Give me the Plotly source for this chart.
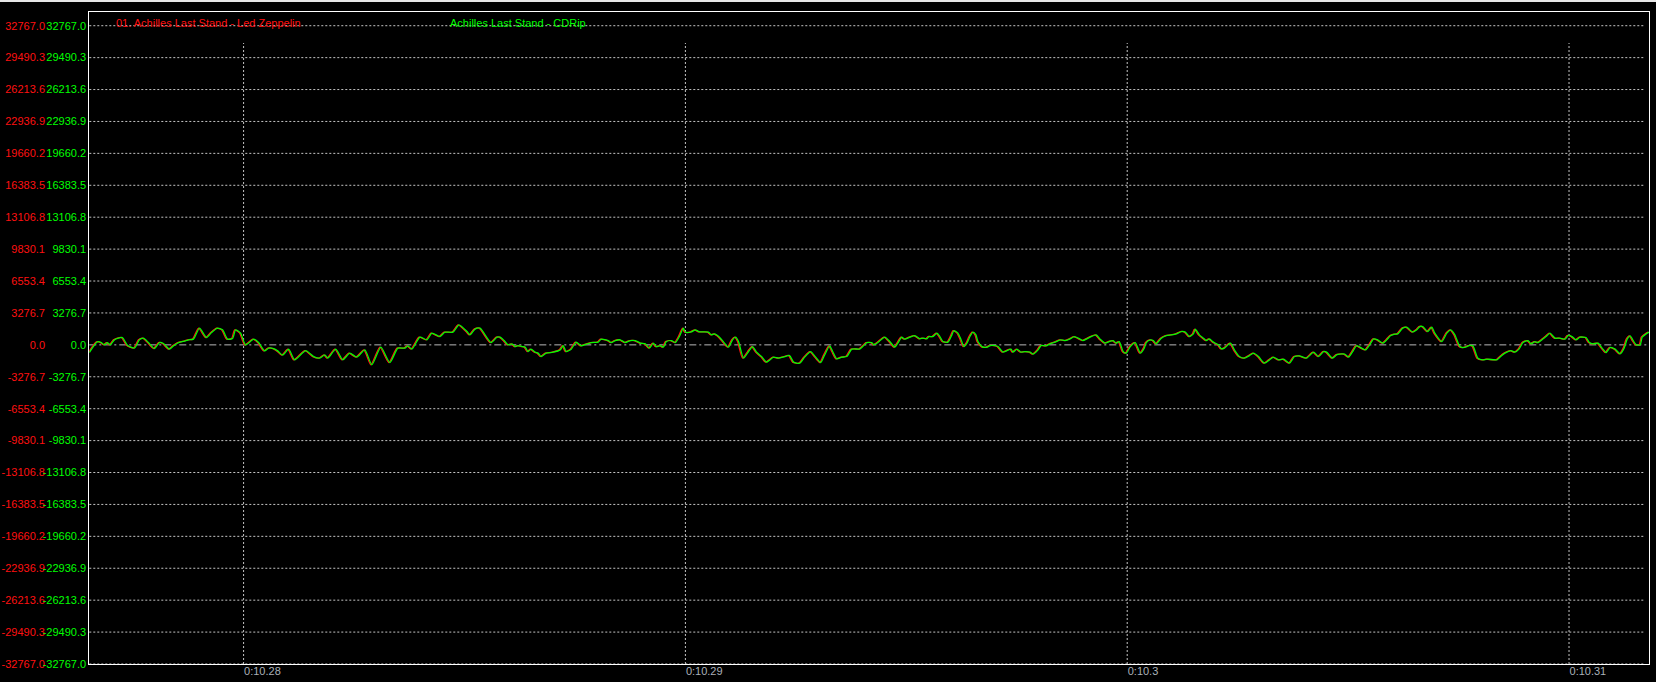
import plotly.graph_objects as go

# ---------------- data ----------------
SAMPLE_RATE = 44100

series_names = ["01. Achilles Last Stand - Led Zeppelin", "Achilles Last Stand - CDRip"]

# sample positions of the traced waveform points
sample_index = [
    453194, 453202, 453206, 453209, 453212, 453215, 453219, 453227, 453232, 453239,
    453244, 453248, 453253, 453259, 453264, 453268, 453274, 453278, 453283, 453290,
    453293, 453298, 453304, 453311, 453316, 453322, 453327, 453332, 453337, 453340,
    453345, 453350, 453358, 453363, 453369, 453373, 453378, 453382, 453387, 453393,
    453399, 453410, 453418, 453424, 453429, 453432, 453440, 453447, 453454, 453461,
    453469, 453476, 453485, 453494, 453502, 453509, 453512, 453516, 453524, 453531,
    453536, 453544, 453549, 453557, 453563, 453571, 453574, 453579, 453584, 453595,
    453601, 453604, 453608, 453612, 453616, 453619, 453622, 453626, 453629, 453632,
    453635, 453639, 453642, 453645, 453650, 453657, 453664, 453667, 453670, 453675,
    453680, 453685, 453690, 453695, 453702, 453705, 453712, 453715, 453719, 453724,
    453729, 453734, 453739, 453744, 453749, 453753, 453757, 453760, 453764, 453767,
    453770, 453775, 453779, 453783, 453787, 453789, 453795, 453799, 453803, 453812,
    453815, 453818, 453823, 453828, 453832, 453836, 453839, 453842, 453847, 453852,
    453856, 453860, 453865, 453870, 453877, 453882, 453888, 453893, 453897, 453903,
    453908, 453914, 453919, 453924, 453928, 453933, 453936, 453940, 453945, 453950,
    453955, 453958, 453963, 453966, 453970, 453975, 453977, 453981, 453988, 453993,
    453998, 454001, 454005, 454008, 454013, 454018,
    454023, 454026, 454030, 454032, 454036, 454040, 454043, 454046, 454051, 454055,
    454057, 454061, 454064, 454067, 454070, 454073, 454076, 454079, 454081, 454085,
    454090, 454093, 454098, 454101, 454106, 454110, 454114, 454116, 454120, 454124,
    454128, 454133, 454136, 454141, 454144, 454149, 454153, 454158, 454163, 454168,
    454173, 454177, 454181, 454186, 454191, 454194, 454199, 454203, 454208, 454212,
    454216, 454219, 454222, 454226, 454229, 454233, 454238, 454243, 454247, 454249,
    454253, 454256, 454259, 454264, 454269, 454274, 454279, 454284, 454288, 454292,
    454296, 454298, 454302, 454306, 454309, 454312, 454316, 454321, 454324, 454327,
    454333, 454337, 454342, 454347, 454352, 454356, 454361, 454367, 454372, 454376,
    454381, 454386, 454392, 454397, 454402, 454409, 454416, 454421,
    454426, 454429, 454435, 454439, 454442, 454447, 454451, 454455, 454459, 454464,
    454468, 454472, 454476, 454480, 454485, 454489, 454493, 454497, 454500, 454505,
    454509, 454511, 454515, 454519, 454522, 454525, 454530, 454534, 454537, 454544,
    454549, 454553, 454557, 454562, 454565, 454569, 454571, 454575, 454580, 454585,
    454589, 454599, 454602, 454607, 454613, 454617, 454621, 454625, 454630, 454633,
    454637, 454640, 454643, 454648, 454652, 454657, 454662, 454667, 454670, 454674,
    454678, 454682, 454688, 454691, 454695, 454700, 454704, 454708, 454712, 454717,
    454722, 454726, 454729, 454732, 454735, 454738, 454742, 454744, 454748, 454751,
]

# CDRip (green) amplitude at those samples
cdrip_amp = [
    -791, 308, 236, 0, 236, 0, 514, 750, -31, -339,
    514, 688, 236, -380, 236, 134, -442, -103, 236, 411,
    514, 586, 1715, 750, 1263, 1715, 1541, 586, 647, 1541,
    1202, 0, 586, 236, -616, -339, -380, -616, -1058, -442,
    -1541, -586, -1202, -1366, -1027, -1366, -442, -1541, -853, -1263,
    -514, -2054, -236, -1818, -339, -339, -103, -442, 791, 514,
    1202, 853, 1305, 1305, 2054, 1366, 1027, 1613, 1715, 236,
    791, 791, 442, 0, 103, -175, -72, -175, -236, -688,
    -442, -750, -853, -1202, -853, -750, -514, -72, -688, -442,
    277, -103, 72, 236, 277, 586, 442, 236, 442, 514,
    236, 442, 442, 175, 103, -339, 175, -175, -72, -236,
    339, 442, 236, 853, 1715, 1305, 1335, 1541, 1335, 1305,
    1027, 1130, 791, 175, -236, 514, 791, 339, -1366, -688,
    -175, -750, -1202, -1777, -1263, -1366, -1202, -1099, -1777, -1880,
    -1263, -688, -1263, -1818, -1027, -103, -688, -1438, -1263, -1202,
    -442, -411, -442, -175, 236, 236, 0, 236, 791, 339,
    -236, 175, 791, 586, 791, 955,
    616, 688, 616, 853, 853, 1202, 853, 339, 277, 1027,
    1469, 1202, 586, -175, 175, 853, 1305, 1027, 339, -175,
    -236, -72, -72, -175, -750, -586, -442, -750, -442, -750,
    -688, -750, -955, -514, -72, -103, 103, 277, 514, 442,
    616, 853, 688, 442, 688, 853, 1027, 586, 175, 339,
    442, 175, 339, -688, -853, -175, 236, -853, -339, 236,
    514, 442, 103, 688, 955, 1027, 1130, 1366, 1305, 853,
    1130, 1613, 1027, 688, 442, 616, 277, 0, -411, -339,
    175, -514, -1202, -1366, -1099, -853, -1202, -1880, -1541, -1263,
    -1541, -1469, -1880, -1202, -1130, -1366, -750, -1202,
    -688, -750, -1366, -1027, -955, -955, -1263, -688, -72, -339,
    -514, 0, 616, 514, 175, 514, 955, 1099, 1130, 1715,
    1818, 1644, 1305, 1541, 1880, 1880, 1366, 1818, 1202, 339,
    1202, 1541, 1027, -175, -277, -175, -72, -103, -1366, -1541,
    -1469, -1541, -1263, -853, -586, -750, -442, 236, 442, 103,
    339, 236, 442, 853, 1202, 688, 688, 586, 955, 853,
    514, 791, 750, 277, 103, 175, -339, -791, -277, -442,
    -924, -339, 586, 924, 442, 0, 0, 791, 1130, 1305,
]

# Led Zeppelin (red) track: same waveform, about one sample earlier
zeppelin_amp = list(cdrip_amp)
zeppelin_sample_offset = -1

y_tick_values = [
    32767.0, 29490.3, 26213.6, 22936.9, 19660.2, 16383.5, 13106.8, 9830.1, 6553.4, 3276.7,
    0.0,
    -3276.7, -6553.4, -9830.1, -13106.8, -16383.5, -19660.2, -22936.9, -26213.6, -29490.3, -32767.0,
]
y_tick_labels = [
    "32767.0", "29490.3", "26213.6", "22936.9", "19660.2", "16383.5", "13106.8", "9830.1", "6553.4", "3276.7",
    "0.0",
    "-3276.7", "-6553.4", "-9830.1", "-13106.8", "-16383.5", "-19660.2", "-22936.9", "-26213.6", "-29490.3", "-32767.0",
]
x_tick_times = [10.28, 10.29, 10.30, 10.31]
x_tick_labels = ["0:10.28", "0:10.29", "0:10.3", "0:10.31"]

# ---------------- figure ----------------
W, H = 1656, 682
ML, MR, MT, MB = 0, 7, 12, 18
PW, PH = W - ML - MR, H - MT - MB
PLOT_LEFT = 89.3

t_cdrip = [n / SAMPLE_RATE for n in sample_index]
t_zep = [(n + zeppelin_sample_offset) / SAMPLE_RATE for n in sample_index]

FONT = "Liberation Sans, Arial, sans-serif"
RED, GREEN = "#ff1010", "#00ff00"
GRID = "#c4c4c4"

fig = go.Figure()
fig.add_trace(go.Scatter(x=t_zep, y=zeppelin_amp, mode="lines", name=series_names[0],
                         line=dict(color=RED, width=1.3, shape="spline", smoothing=0.6),
                         xaxis="x", yaxis="y", hoverinfo="skip"))
fig.add_trace(go.Scatter(x=t_cdrip, y=cdrip_amp, mode="lines", name=series_names[1],
                         line=dict(color=GREEN, width=1.3, shape="spline", smoothing=0.6),
                         xaxis="x", yaxis="y2", hoverinfo="skip"))

y_range = [-32767, 34175]
x_range = [10.276508, 10.311810]

shapes = []
for v in y_tick_values:
    if v == 0:
        continue
    shapes.append(dict(type="line", xref="x domain", yref="y", x0=0, x1=0.997, y0=v, y1=v,
                       line=dict(color=GRID, width=1, dash="2px,2px"), layer="below"))
shapes.append(dict(type="line", xref="x domain", yref="y", x0=0, x1=1, y0=0, y1=0,
                   line=dict(color="#b8b8b8", width=1, dash="7px,3px,2px,3px"), layer="below"))
for t in x_tick_times:
    shapes.append(dict(type="line", xref="x", yref="y domain", x0=t, x1=t, y0=0, y1=(PH - 31) / PH,
                       line=dict(color=GRID, width=1, dash="2px,2px"), layer="below"))
# light window edge at the very top
shapes.append(dict(type="rect", xref="paper", yref="paper", x0=-0.01, x1=1.01,
                   y0=1 + (MT - 2) / PH, y1=1 + (MT + 1) / PH,
                   fillcolor="#e6e6e6", line=dict(width=0), layer="above"))

annotations = [
    dict(text=series_names[0], xref="paper", yref="paper", x=114 / PW, y=1 - 11 / PH,
         xanchor="left", yanchor="middle", showarrow=False, font=dict(color=RED, size=11, family=FONT)),
    dict(text=series_names[1], xref="paper", yref="paper", x=448 / PW, y=1 - 11 / PH,
         xanchor="left", yanchor="middle", showarrow=False, font=dict(color=GREEN, size=11, family=FONT)),
]

fig.update_layout(
    width=W, height=H,
    margin=dict(l=ML, r=MR, t=MT, b=MB, pad=0),
    paper_bgcolor="black", plot_bgcolor="black",
    showlegend=False,
    font=dict(family=FONT, size=11),
    xaxis=dict(domain=[PLOT_LEFT / PW, 1], range=x_range, tickvals=x_tick_times, ticktext=x_tick_labels,
               ticklabelposition="outside right", ticks="", ticklabelstandoff=-3,
               tickfont=dict(color="#aab0b8", size=11),
               showgrid=False, zeroline=False, showline=True, mirror=True, linecolor="white", linewidth=1,
               anchor="y"),
    yaxis=dict(range=y_range, tickvals=y_tick_values, ticktext=y_tick_labels, anchor="free",
               position=45 / PW, side="left", ticks="", tickfont=dict(color=RED, size=11),
               showgrid=False, zeroline=False, showline=False),
    yaxis2=dict(range=y_range, tickvals=y_tick_values, ticktext=y_tick_labels, overlaying="y",
                anchor="x", side="left", ticks="", tickfont=dict(color=GREEN, size=11),
                showgrid=False, zeroline=False, showline=True, mirror=True, linecolor="white", linewidth=1),
    shapes=shapes,
    annotations=annotations,
)

fig.write_html("out.html",
               config={"displayModeBar": False, "staticPlot": True},
               post_script="document.body.style.margin='0';document.body.style.padding='0';"
                           "document.body.style.overflow='hidden';document.body.style.background='black';")
